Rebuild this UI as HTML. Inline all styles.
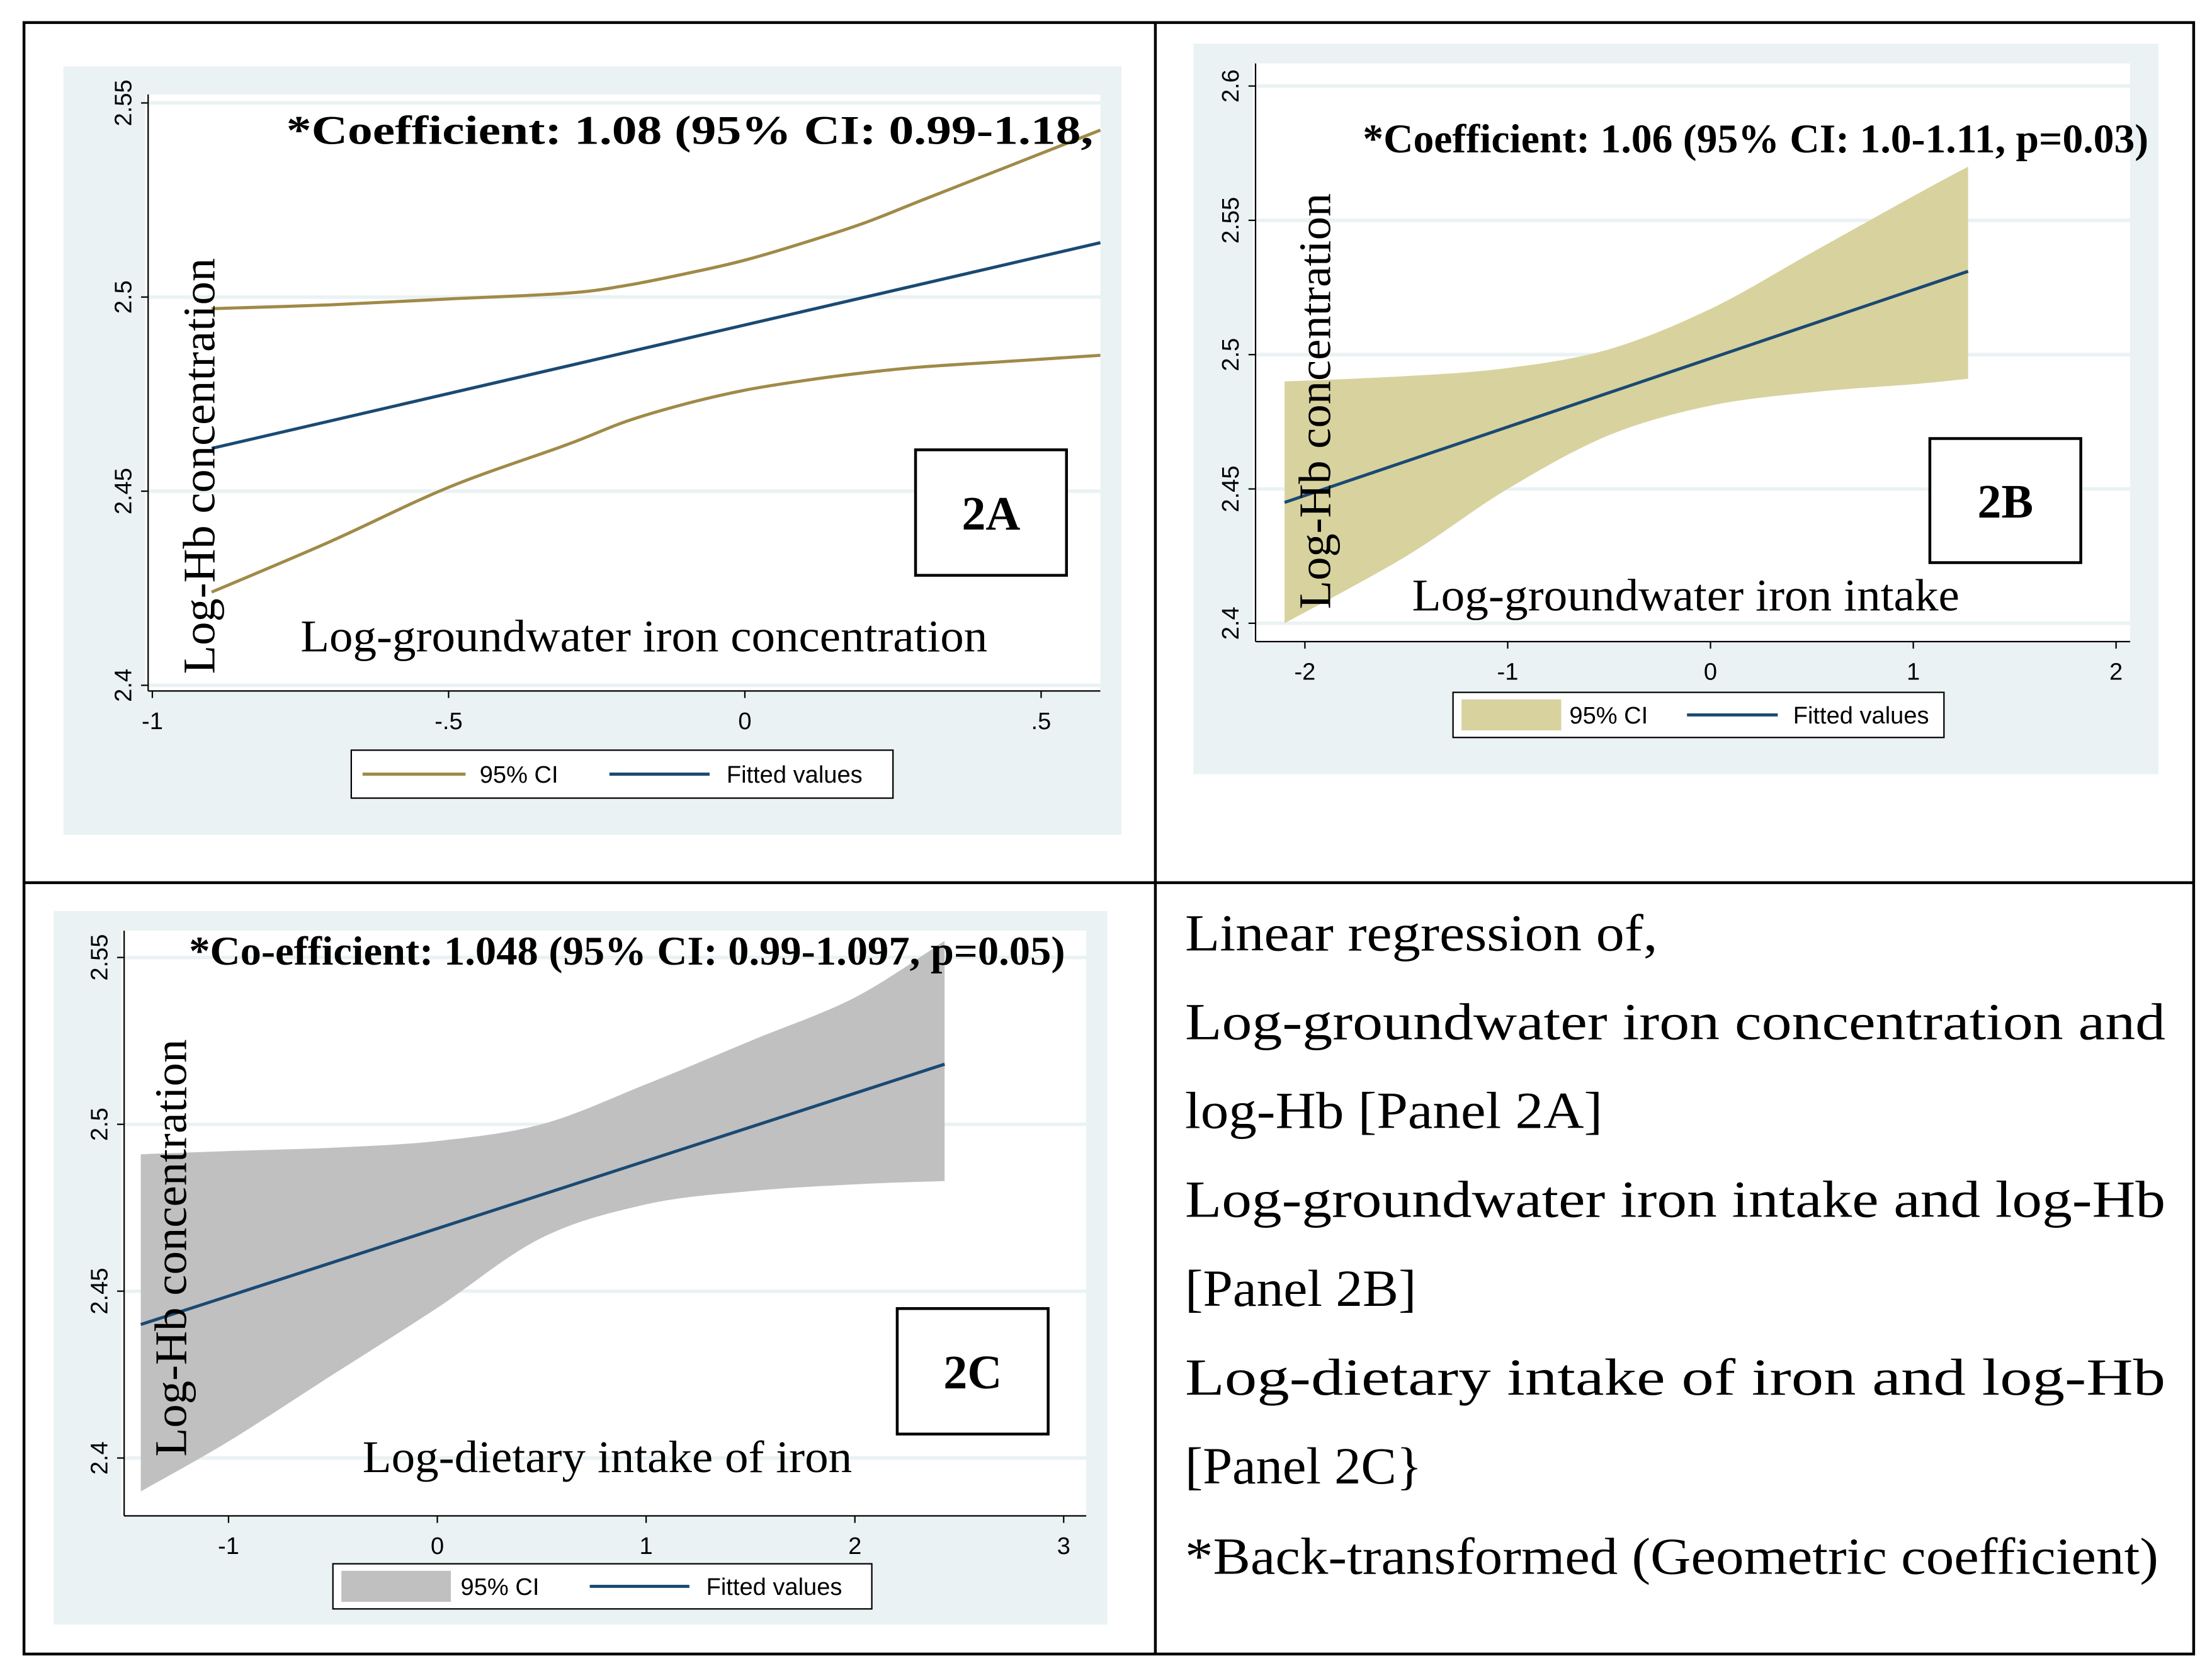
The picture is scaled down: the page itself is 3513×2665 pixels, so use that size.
<!DOCTYPE html>
<html><head><meta charset="utf-8"><style>
html,body{margin:0;padding:0;background:#fff}
svg{display:block}
.tk{font-family:"Liberation Sans",sans-serif;font-size:17px;fill:#000}
.sf{font-family:"Liberation Serif",serif}
</style></head><body>
<svg id="fig" xmlns="http://www.w3.org/2000/svg" width="3513" height="2665" viewBox="0 0 1568 1190" preserveAspectRatio="none">
<rect width="1568" height="1190" fill="#fff"/>
<g stroke="#000" stroke-width="2" fill="none">
<rect x="17" y="16" width="1538" height="1157"/>
<line x1="819" y1="16" x2="819" y2="1173"/>
<line x1="17" y1="626" x2="1555" y2="626"/>
</g>
<g id="pA"></g>
<g id="pB"></g>
<g id="pC"></g>
<g class="sf" font-size="37" fill="#000">
<text x="840" y="674" textLength="335" lengthAdjust="spacingAndGlyphs">Linear regression of,</text>
<text x="840" y="737" textLength="695" lengthAdjust="spacingAndGlyphs">Log-groundwater iron concentration and</text>
<text x="840" y="800" textLength="296" lengthAdjust="spacingAndGlyphs">log-Hb [Panel 2A]</text>
<text x="840" y="863" textLength="695" lengthAdjust="spacingAndGlyphs">Log-groundwater iron intake and log-Hb</text>
<text x="840" y="926" textLength="164" lengthAdjust="spacingAndGlyphs">[Panel 2B]</text>
<text x="840" y="989" textLength="695" lengthAdjust="spacingAndGlyphs">Log-dietary intake of iron and log-Hb</text>
<text x="840" y="1052" textLength="168" lengthAdjust="spacingAndGlyphs">[Panel 2C}</text>
<text x="840" y="1116" textLength="690" lengthAdjust="spacingAndGlyphs">*Back-transformed (Geometric coefficient)</text>
</g>
</svg>
<script>
// Panel 2A data
const aX = [-0.9,-0.7,-0.5,-0.3,-0.2,-0.1,0,0.1,0.2,0.3,0.45,0.6];
const aUpper = [2.497,2.498,2.4995,2.501,2.503,2.506,2.5095,2.514,2.519,2.525,2.534,2.543];
const aLower = [2.424,2.437,2.451,2.462,2.468,2.4725,2.476,2.4785,2.4805,2.482,2.4835,2.485];
const aFitX = [-0.9,0.6];
const aFit = [2.461,2.514];
const aXTicks = [-1,-0.5,0,0.5];
const aXLabels = ["-1","-.5","0",".5"];
const aYTicks = [2.4,2.45,2.5,2.55];
const aYLabels = ["2.4","2.45","2.5","2.55"];
// Panel 2B data
const bX = [-2.1,-1.5,-1,-0.5,0,0.5,1,1.27];
const bUpper = [2.49,2.492,2.495,2.502,2.517,2.538,2.559,2.57];
const bLower = [2.40,2.425,2.45,2.47,2.481,2.486,2.489,2.491];
const bFitX = [-2.1,1.27];
const bFit = [2.445,2.531];
const bXTicks = [-2,-1,0,1,2];
const bXLabels = ["-2","-1","0","1","2"];
const bYTicks = [2.4,2.45,2.5,2.55,2.6];
const bYLabels = ["2.4","2.45","2.5","2.55","2.6"];
// Panel 2C data
const cX = [-1.42,-1,-0.5,0,0.5,1,1.5,2,2.43];
const cUpper = [2.491,2.492,2.493,2.495,2.5,2.512,2.525,2.538,2.555];
const cLower = [2.39,2.405,2.425,2.445,2.466,2.476,2.48,2.482,2.483];
const cFitX = [-1.42,2.43];
const cFit = [2.44,2.518];
const cXTicks = [-1,0,1,2,3];
const cXLabels = ["-1","0","1","2","3"];
const cYTicks = [2.4,2.45,2.5,2.55];
const cYLabels = ["2.4","2.45","2.5","2.55"];

const NS="http://www.w3.org/2000/svg";
function mk(parent,tag,attrs,text){const e=document.createElementNS(NS,tag);for(const k in attrs)e.setAttribute(k,attrs[k]);if(text!==undefined)e.textContent=text;parent.appendChild(e);return e;}
function smooth(p){
  let d='M'+p[0][0].toFixed(1)+','+p[0][1].toFixed(1);
  for(let i=0;i<p.length-1;i++){
    const p0=p[Math.max(0,i-1)],p1=p[i],p2=p[i+1],p3=p[Math.min(p.length-1,i+2)];
    const c1=[p1[0]+(p2[0]-p0[0])/6,p1[1]+(p2[1]-p0[1])/6];
    const c2=[p2[0]-(p3[0]-p1[0])/6,p2[1]-(p3[1]-p1[1])/6];
    d+=` C${c1[0].toFixed(1)},${c1[1].toFixed(1)} ${c2[0].toFixed(1)},${c2[1].toFixed(1)} ${p2[0].toFixed(1)},${p2[1].toFixed(1)}`;
  }
  return d;
}

function panel(g,cfg){
  const sx=v=>cfg.px0+(v-cfg.x0)*(cfg.px1-cfg.px0)/(cfg.x1-cfg.x0);
  const sy=v=>cfg.py0+(v-cfg.y0)*(cfg.py1-cfg.py0)/(cfg.y1-cfg.y0);
  const bg=mk(g,'rect',{x:cfg.bg[0],y:cfg.bg[1],width:cfg.bg[2],height:cfg.bg[3],fill:'#eaf2f3'});
  
  
  const pa=mk(g,'rect',{x:cfg.pa[0],y:cfg.pa[1],width:cfg.pa[2],height:cfg.pa[3],fill:'#fff'});
  
  
  cfg.yTicks.forEach((t,i)=>{
    const y=sy(t);
    const gl=mk(g,'line',{x1:cfg.axX,x2:cfg.pa[0]+cfg.pa[2],y1:y,y2:y,stroke:'#eaf2f3','stroke-width':2.5});
    
    
    mk(g,'line',{x1:cfg.axX-5,x2:cfg.axX,y1:y,y2:y,stroke:'#000','stroke-width':1});
    const tl=mk(g,'text',{class:'tk','text-anchor':'middle',transform:`translate(${cfg.axX-12},${y}) rotate(-90)`},cfg.yLabels[i]);
    
    
  });
  cfg.xTicks.forEach((t,i)=>{
    const x=sx(t);
    mk(g,'line',{x1:x,x2:x,y1:cfg.axY,y2:cfg.axY+5,stroke:'#000','stroke-width':1});
    const tl=mk(g,'text',{class:'tk','text-anchor':'middle',x:x,y:cfg.axY+27},cfg.xLabels[i]);
    
    
  });
  mk(g,'line',{x1:cfg.axX,x2:cfg.axX,y1:cfg.pa[1],y2:cfg.axY,stroke:'#000','stroke-width':1});
  mk(g,'line',{x1:cfg.axX,x2:cfg.pa[0]+cfg.pa[2],y1:cfg.axY,y2:cfg.axY,stroke:'#000','stroke-width':1});
  const up=cfg.X.map((x,i)=>[sx(x),sy(cfg.U[i])]);
  const lo=cfg.X.map((x,i)=>[sx(x),sy(cfg.L[i])]);
  if(cfg.band){
    const lr=lo.slice().reverse();
    const d=smooth(up)+' L'+smooth(lr).slice(1)+' Z';
    const b=mk(g,'path',{d:d,fill:cfg.bandColor});
    
    
  } else {
    const u=mk(g,'path',{d:smooth(up),fill:'none',stroke:'#a08a48','stroke-width':2.2});
    
    
    const l=mk(g,'path',{d:smooth(lo),fill:'none',stroke:'#a08a48','stroke-width':2.2});
    
    
  }
  const fp=cfg.FX.map((x,i)=>[sx(x),sy(cfg.F[i])]);
  const f=mk(g,'path',{d:smooth(fp),fill:'none',stroke:'#1a4a73','stroke-width':2.2});
  
  
  const L=cfg.leg;
  const k=L[2]/384;
  const lg=mk(g,'g',{});
  
  
  mk(lg,'rect',{x:L[0],y:L[1],width:L[2],height:L[3],fill:'#fff',stroke:'#000','stroke-width':1});
  const my=L[1]+L[3]/2;
  if(cfg.band) mk(lg,'rect',{x:L[0]+6,y:L[1]+5,width:78*k,height:L[3]-10,fill:cfg.bandColor});
  else mk(lg,'line',{x1:L[0]+8,x2:L[0]+81*k,y1:my,y2:my,stroke:'#a08a48','stroke-width':2.2});
  mk(lg,'text',{class:'tk',x:L[0]+91*k,y:my+6,'font-size':17*k},'95% CI');
  mk(lg,'line',{x1:L[0]+183*k,x2:L[0]+254*k,y1:my,y2:my,stroke:'#1a4a73','stroke-width':2.2});
  mk(lg,'text',{class:'tk',x:L[0]+266*k,y:my+6,'font-size':17*k},'Fitted values');
  const ct=mk(g,'text',{class:'sf',x:cfg.coef[1],y:cfg.coef[2],'font-size':29,'font-weight':'bold',textLength:cfg.coef[3],lengthAdjust:'spacingAndGlyphs'},cfg.coef[0]);
  
  
  const B=cfg.box;
  mk(g,'rect',{x:B[0],y:B[1],width:B[2],height:B[3],fill:'#fff',stroke:'#000','stroke-width':2});
  const bt=mk(g,'text',{class:'sf',x:B[0]+B[2]/2,y:B[1]+B[3]/2+12,'text-anchor':'middle','font-size':34,'font-weight':'bold'},cfg.label);
  
  
  const yt=mk(g,'text',{class:'sf',transform:`translate(${cfg.yt[0]},${cfg.yt[1]}) rotate(-90)`,'font-size':32,textLength:cfg.yt[2],lengthAdjust:'spacingAndGlyphs'},'Log-Hb concentration');
  
  
  const xt=mk(g,'text',{class:'sf',x:cfg.xt[0],y:cfg.xt[1],'font-size':32,textLength:cfg.xt[2],lengthAdjust:'spacingAndGlyphs'},cfg.xtitle);
  
  
}

panel(document.getElementById('pA'),{
  bg:[45,47,750,545],pa:[103,67,677,423],axX:105,axY:490,
  x0:-1,x1:0.5,px0:108,px1:738,y0:2.4,y1:2.55,py0:486,py1:73,
  xTicks:aXTicks,xLabels:aXLabels,yTicks:aYTicks,yLabels:aYLabels,
  X:aX,U:aUpper,L:aLower,FX:aFitX,F:aFit,band:false,
  leg:[249,532,384,34],
  coef:['*Coefficient:   1.08   (95%   CI:   0.99-1.18,',203,102,572],
  box:[649,319,107,89],label:'2A',yt:[152,478,295],
  xt:[213,462,487],xtitle:'Log-groundwater iron concentration'
});
panel(document.getElementById('pB'),{
  bg:[846,31,684,518],pa:[888,45,622,410],axX:890,axY:455,
  x0:-2,x1:2,px0:925,px1:1500,y0:2.4,y1:2.6,py0:442,py1:61,
  xTicks:bXTicks,xLabels:bXLabels,yTicks:bYTicks,yLabels:bYLabels,
  X:bX,U:bUpper,L:bLower,FX:bFitX,F:bFit,band:true,bandColor:'#d8d29e',
  leg:[1030,491,348,32],
  coef:['*Coefficient: 1.06 (95% CI: 1.0-1.11, p=0.03)',966,108,557],
  box:[1368,311,107,88],label:'2B',yt:[943,432,295],
  xt:[1001,433,388],xtitle:'Log-groundwater iron intake'
});
panel(document.getElementById('pC'),{
  bg:[38,646,747,506],pa:[86,660,684,415],axX:88,axY:1075,
  x0:-1,x1:3,px0:162,px1:754,y0:2.4,y1:2.55,py0:1034,py1:679,
  xTicks:cXTicks,xLabels:cXLabels,yTicks:cYTicks,yLabels:cYLabels,
  X:cX,U:cUpper,L:cLower,FX:cFitX,F:cFit,band:true,bandColor:'#c0c0c0',
  leg:[236,1109,382,32],
  coef:['*Co-efficient: 1.048 (95% CI: 0.99-1.097, p=0.05)',134,684,621],
  box:[636,928,107,89],label:'2C',yt:[132,1033,296],
  xt:[257,1044,347],xtitle:'Log-dietary intake of iron'
});
</script>
</body></html>
